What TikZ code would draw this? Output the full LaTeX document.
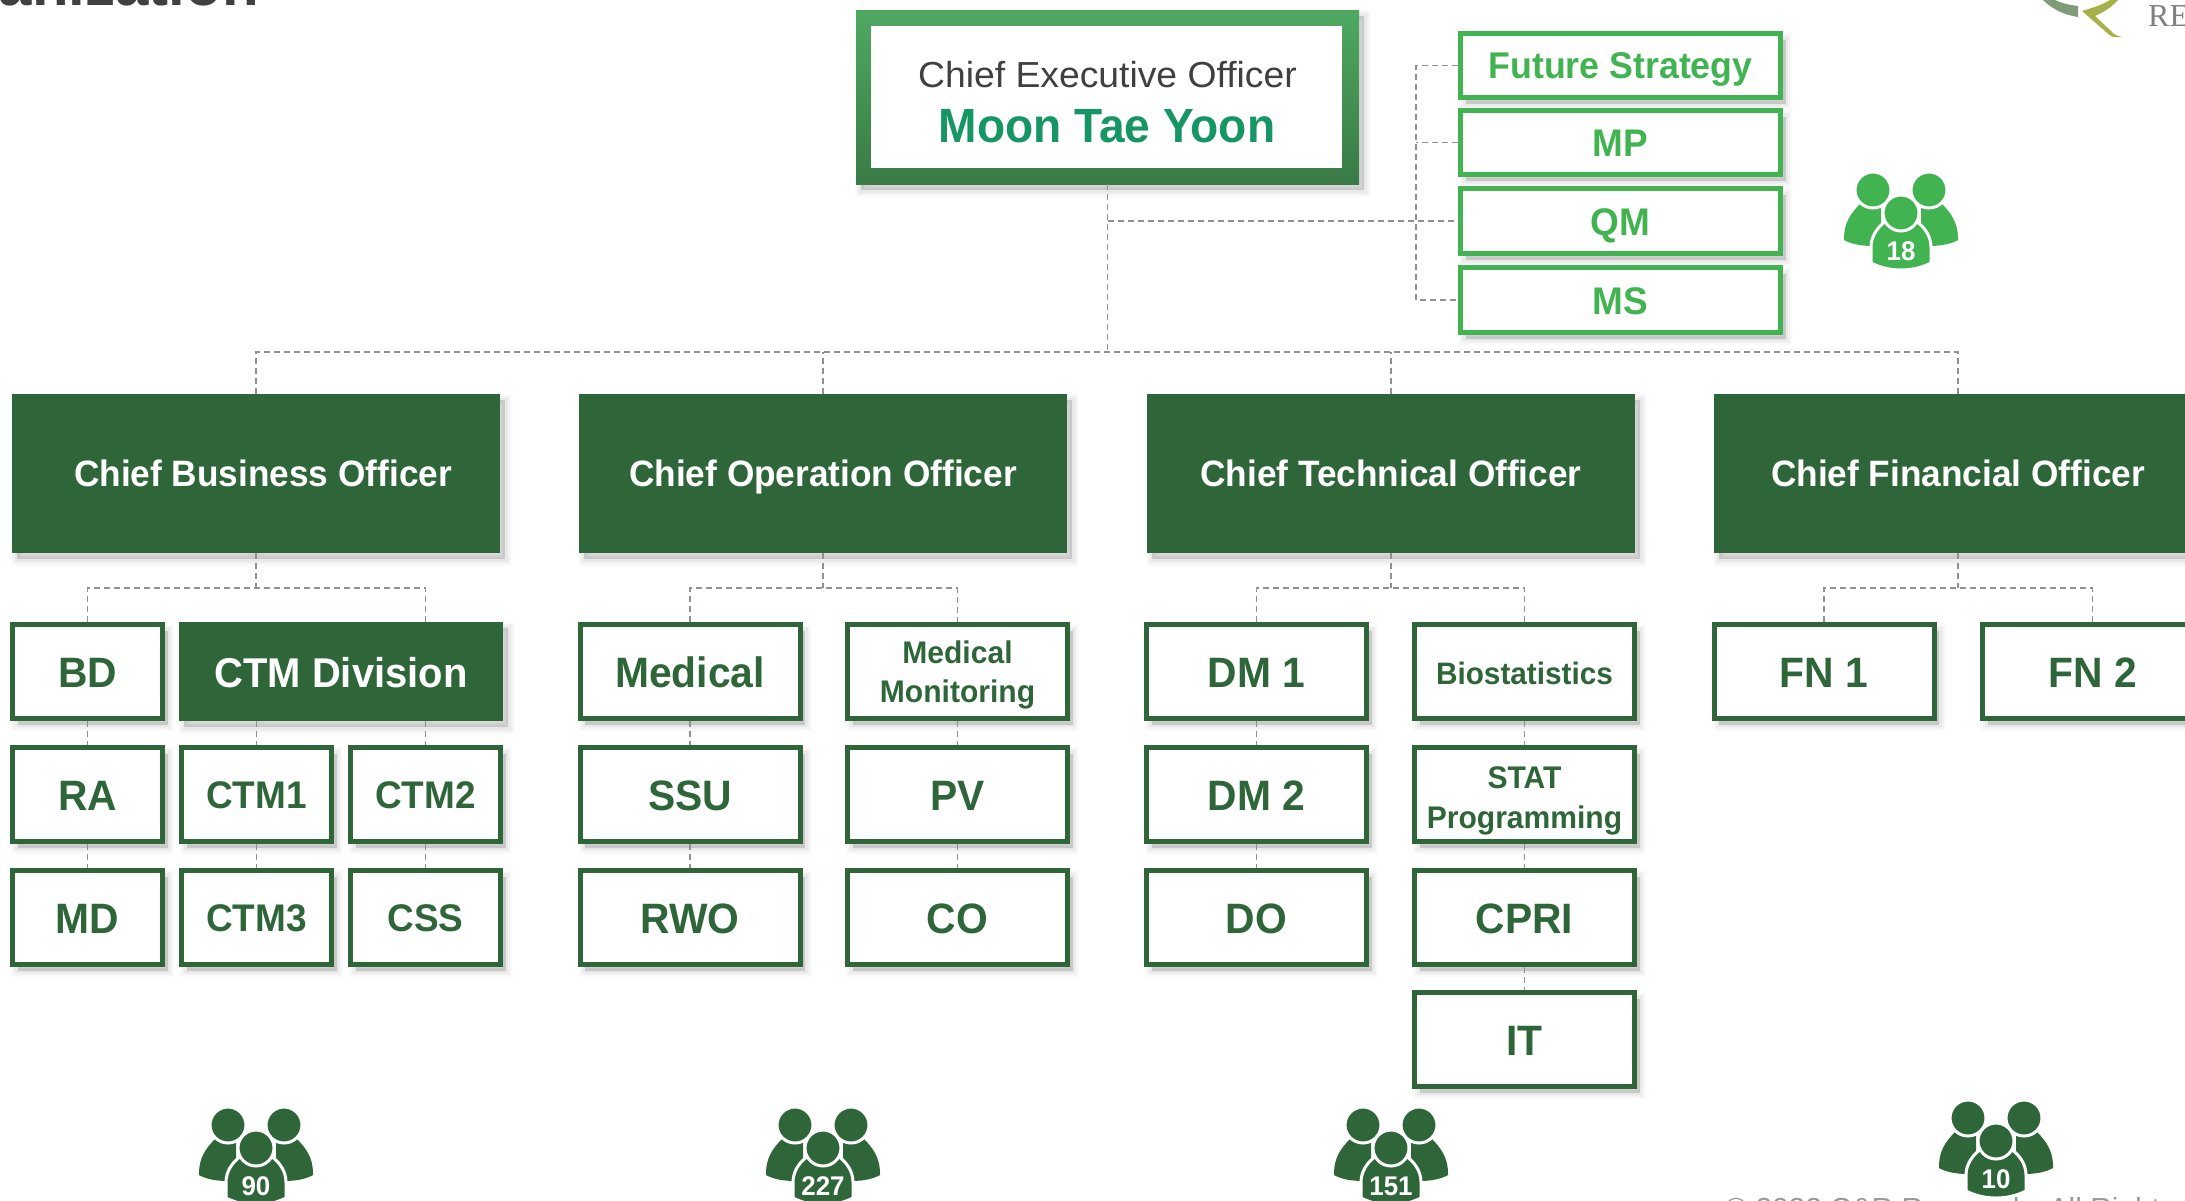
\documentclass[tikz,border=0pt]{standalone}
\usepackage{fontspec}
\usetikzlibrary{shadows}
\setmainfont{Liberation Sans}[FakeStretch=0.96]
\newfontfamily\regf{Liberation Sans}[FakeStretch=1.03]
\newfontfamily\serf{Liberation Serif}
\definecolor{dkgreen}{HTML}{2F6639}
\definecolor{ltgreen}{HTML}{42B351}
\definecolor{ceotop}{HTML}{4FA961}
\definecolor{ceobot}{HTML}{397A46}
\definecolor{moon}{HTML}{159664}
\definecolor{txtgray}{HTML}{404040}
\definecolor{dashgray}{HTML}{909090}
\definecolor{logogray}{HTML}{7F9B78}
\definecolor{logoolive}{HTML}{A8B04A}
\tikzset{
  softshadow/.style={
    general shadow={shadow xshift=5pt,shadow yshift=-6pt,fill=black,draw=black,line width=13pt,opacity=.02},
    general shadow={shadow xshift=5pt,shadow yshift=-6pt,fill=black,draw=black,line width=9pt,opacity=.03},
    general shadow={shadow xshift=5pt,shadow yshift=-6pt,fill=black,draw=black,line width=5pt,opacity=.04},
    general shadow={shadow xshift=5pt,shadow yshift=-6pt,fill=black,opacity=.06}},
  box/.style={rectangle,draw=dkgreen,fill=white,line width=5pt,text=dkgreen,inner sep=0pt,minimum height=94pt,softshadow},
  wa/.style={box,minimum width=150pt},
  wb/.style={box,minimum width=220pt},
  biglab/.style={font=\bfseries\fontsize{42.5}{48}\selectfont,text height=31pt,text depth=0pt},
  midlab/.style={font=\bfseries\fontsize{36.7}{42}\selectfont,text height=26.7pt,text depth=0pt},
  capslab/.style={font=\bfseries\fontsize{38.5}{44}\selectfont,text height=28pt,text depth=0pt},
  twolab/.style={font=\bfseries\fontsize{31.3}{39.5}\selectfont,align=center,text depth=0pt},
  solid box/.style={rectangle,fill=dkgreen,text=white,inner sep=0pt,outer sep=0pt,softshadow},
  chief/.style={solid box,minimum width=488pt,minimum height=159pt,midlab},
  side/.style={box,draw=ltgreen,text=ltgreen,minimum width=320pt,capslab},
  conn/.style={draw=dashgray,line width=1.1pt,dash pattern=on 6pt off 4pt},
  pics/people/.style 2 args={code={
    \fill[#1] (-57,25) .. controls (-57,10) and (-50,0) .. (-41,-9) -- (-20,-5) -- (-20,33) -- (-28,33) .. controls (-40,33) and (-50,31) .. (-57,27) -- cycle;
    \fill[#1] (57,25) .. controls (57,10) and (50,0) .. (41,-9) -- (20,-5) -- (20,33) -- (28,33) .. controls (40,33) and (50,31) .. (57,27) -- cycle;
    \filldraw[fill=#1,draw=white,line width=3pt] (-28,-23) circle (18);
    \filldraw[fill=#1,draw=white,line width=3pt] (28,-23) circle (18);
    \filldraw[fill=#1,draw=white,line width=3pt] (-30,50) -- (-30,34) .. controls (-30,22) and (-22,12) .. (-12,6) -- (12,6) .. controls (22,12) and (30,22) .. (30,34) -- (30,50) .. controls (20,55) and (10,57) .. (0,57) .. controls (-10,57) and (-20,55) .. (-30,50) -- cycle;
    \filldraw[fill=#1,draw=white,line width=3pt] (0,0) circle (18);
    \node[text=white,inner sep=0pt,font=\bfseries\fontsize{27}{30}\selectfont] (-num) at (0,38) {#2};
  }}
}
\begin{document}
\begin{tikzpicture}[x=1pt,y=-1pt]
\useasboundingbox (0,0) rectangle (2185,1200);
\clip (0,0) rectangle (2185,1200);

% page fragments
\node[anchor=base east,inner sep=0pt,text=txtgray,font=\bfseries\fontsize{62.5}{70}\selectfont] (title) at (259,5) {anization};
\fill[logogray] (2043,0) .. controls (2052,9) and (2064,15) .. (2078,17) -- (2078,6) .. controls (2069,5) and (2061,3) .. (2055,0) -- cycle;
\fill[logoolive] (2082,11) .. controls (2092,8) and (2102,5) .. (2110,0) -- (2118,0) .. controls (2112,7) and (2104,12) .. (2095,16) -- (2111,31) .. controls (2114,35) and (2118,36) .. (2122,37) -- (2113,37) .. controls (2110,36) and (2108,34) .. (2106,32) -- cycle;
\node[anchor=base west,inner sep=0pt,text=gray,font=\serf\fontsize{32}{36}\selectfont] (logotext) at (2148,26) {RE};
\node[anchor=base west,inner sep=0pt,text=black!40,font=\regf\fontsize{29}{32}\selectfont] (copy) at (1725,1218) {© 2022 C\&R Research. All Rights Reserved};

% CEO
\node[rectangle,minimum width=503pt,minimum height=174pt,inner sep=0pt,outer sep=0pt,top color=ceotop,bottom color=ceobot,softshadow] (ceofr) at (1107.5,97) {};
\node[rectangle,fill=white,minimum width=471pt,minimum height=142pt,inner sep=0pt,outer sep=0pt] (ceoin) at (1106.5,97) {};
\node[anchor=base,inner sep=0pt,text=txtgray,font=\regf\fontsize{36.2}{40}\selectfont] (ceot) at (1107.5,87) {Chief Executive Officer};
\node[anchor=base,inner sep=0pt,text=moon,font=\bfseries\fontsize{48}{54}\selectfont] (ceon) at (1107,142) {Moon Tae Yoon};

% staff boxes
\node[side,midlab,font=\bfseries\fontsize{37.2}{42}\selectfont,minimum height=64pt] (fs) at (1620.5,65.5) {Future Strategy};
\node[side,minimum height=64pt] (mp) at (1620.5,142.5) {MP};
\node[side,minimum height=65pt] (qm) at (1620.5,221) {QM};
\node[side,minimum height=65pt] (ms) at (1620.5,300) {MS};

% chiefs
\node[chief] (cbo) at (256,473.5) {\hspace{14pt}Chief Business Officer};
\node[chief] (coo) at (823,473.5) {Chief Operation Officer};
\node[chief] (cto) at (1391,473.5) {Chief Technical Officer};
\node[chief] (cfo) at (1958,473.5) {Chief Financial Officer};

% business
\node[wa,biglab] (bd) at (87.5,671.5) {BD};
\node[solid box,minimum width=324pt,minimum height=99pt,biglab,font=\bfseries\fontsize{41.6}{48}\selectfont] (ctmd) at (341,671.5) {CTM Division};
\node[wa,biglab] (ra) at (87.5,794.5) {RA};
\node[wa,capslab] (ctma) at (256.5,794.5) {CTM1};
\node[wa,capslab] (ctmb) at (425.5,794.5) {CTM2};
\node[wa,biglab] (md) at (87.5,917.5) {MD};
\node[wa,capslab] (ctmc) at (256.5,917.5) {CTM3};
\node[wa,capslab] (css) at (425.5,917.5) {CSS};

% operation
\node[wb,biglab] (medi) at (690,671.5) {Medical};
\node[wb,twolab,text height=62pt] (mm) at (957.5,671.5) {Medical\\Monitoring};
\node[wb,biglab] (ssu) at (690,794.5) {SSU};
\node[wb,biglab] (pv) at (957.5,794.5) {PV};
\node[wb,biglab] (rwo) at (690,917.5) {RWO};
\node[wb,biglab] (co) at (957.5,917.5) {CO};

% technical
\node[wb,biglab] (dma) at (1256.5,671.5) {DM 1};
\node[wb,font=\bfseries\fontsize{31}{36}\selectfont,text height=27pt,text depth=1.5pt] (bio) at (1524.5,671.5) {Biostatistics};
\node[wb,biglab] (dmb) at (1256.5,794.5) {DM 2};
\node[wb,twolab,text height=67pt] (stat) at (1524.5,794.5) {STAT\\Programming};
\node[wb,biglab] (dom) at (1256.5,917.5) {DO};
\node[wb,biglab] (cpri) at (1524.5,917.5) {CPRI};
\node[wb,biglab] (itb) at (1524.5,1039.5) {IT};

% financial
\node[wb,biglab] (fna) at (1824,671.5) {FN 1};
\node[wb,biglab] (fnb) at (2092.5,671.5) {FN 2};

% junctions
\coordinate (bus) at (1107.5,352);
\coordinate (trunk) at (1416,300);
\coordinate (ja) at (256,588);
\coordinate (jb) at (823,588);
\coordinate (jc) at (1391,588);
\coordinate (jd) at (1958,588);

% connectors
\draw[conn] (ceofr.south) -- (bus);
\draw[conn] (cbo.north) |- (bus) -| (cfo.north);
\draw[conn] (coo.north) -- (coo.north |- bus);
\draw[conn] (cto.north) -- (cto.north |- bus);
\draw[conn] (ceofr.south |- qm.west) -- (qm.west);
\draw[conn] (fs.west) -| (trunk) -- (ms.west);
\draw[conn] (mp.west) -- (trunk |- mp.west);

\draw[conn] (cbo.south) -- (ja);
\draw[conn] (bd.north) |- (ja) -| (ctmb.north |- ctmd.north);
\draw[conn] (bd.south) -- (ra.north);
\draw[conn] (ra.south) -- (md.north);
\draw[conn] (ctma.north |- ctmd.south) -- (ctma.north);
\draw[conn] (ctmb.north |- ctmd.south) -- (ctmb.north);
\draw[conn] (ctma.south) -- (ctmc.north);
\draw[conn] (ctmb.south) -- (css.north);

\draw[conn] (coo.south) -- (jb);
\draw[conn] (medi.north) |- (jb) -| (mm.north);
\draw[conn] (medi.south) -- (ssu.north);
\draw[conn] (ssu.south) -- (rwo.north);
\draw[conn] (mm.south) -- (pv.north);
\draw[conn] (pv.south) -- (co.north);

\draw[conn] (cto.south) -- (jc);
\draw[conn] (dma.north) |- (jc) -| (bio.north);
\draw[conn] (dma.south) -- (dmb.north);
\draw[conn] (dmb.south) -- (dom.north);
\draw[conn] (bio.south) -- (stat.north);
\draw[conn] (stat.south) -- (cpri.north);
\draw[conn] (cpri.south) -- (itb.north);

\draw[conn] (cfo.south) -- (jd);
\draw[conn] (fna.north) |- (jd) -| (fnb.north);

% head counts
\pic (pa) at (1901,213) {people={ltgreen}{18}};
\pic (pb) at (256,1148) {people={dkgreen}{90}};
\pic (pc) at (823,1148) {people={dkgreen}{227}};
\pic (pd) at (1391,1148) {people={dkgreen}{151}};
\pic (pe) at (1996,1141) {people={dkgreen}{10}};
\end{tikzpicture}
\end{document}
